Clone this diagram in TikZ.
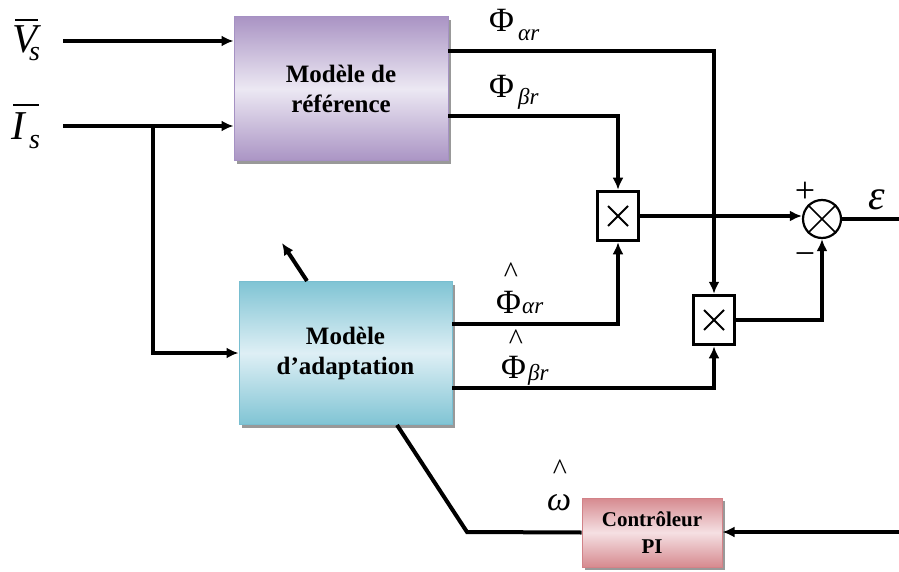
\documentclass[tikz,border=0pt]{standalone}
\usepackage{fontspec}
\setmainfont{Liberation Serif}
\usetikzlibrary{arrows.meta,shadows}
\definecolor{refdark}{RGB}{170,148,196}
\definecolor{reflight}{RGB}{236,232,243}
\definecolor{refedge}{RGB}{165,145,195}
\definecolor{addark}{RGB}{128,196,212}
\definecolor{adlight}{RGB}{222,239,245}
\definecolor{adedge}{RGB}{120,190,208}
\definecolor{pidark}{RGB}{214,138,143}
\definecolor{pilight}{RGB}{245,224,227}
\definecolor{piedge}{RGB}{210,130,136}
\newcommand\BoxFont{\fontsize{25}{30}\selectfont\bfseries}
\newcommand\PhiFont{\fontsize{34}{34}\selectfont}
\newcommand\SubFont{\fontsize{23}{23}\selectfont\itshape}
\newcommand\BigIt{\fontsize{41}{41}\selectfont\itshape}
\newcommand\SmallIt{\fontsize{28}{28}\selectfont\itshape}
\newcommand\HatFont{\fontsize{30}{30}\selectfont}
\begin{document}
\begin{tikzpicture}[x=1pt,y=-1pt,
  block/.style={draw, line width=1pt, align=center, font=\BoxFont, inner sep=0pt,
    shading=axis, shading angle=-45,
    drop shadow={shadow xshift=3pt, shadow yshift=-3pt, fill=black!40, opacity=1}},
  refbox/.style={block, draw=refedge, top color=refdark, bottom color=refdark, middle color=reflight,
    minimum width=214pt, minimum height=144pt},
  adbox/.style={block, draw=adedge, top color=addark, bottom color=addark, middle color=adlight,
    minimum width=213pt, minimum height=143pt},
  pibox/.style={block, draw=piedge, top color=pidark, bottom color=pidark, middle color=pilight,
    minimum width=140pt, minimum height=69pt, font=\fontsize{21}{27}\selectfont\bfseries},
  mult/.style={draw, line width=3.5pt, fill=white, minimum width=41pt, minimum height=49pt, inner sep=0pt},
  sumc/.style={draw, circle, line width=2.2pt, minimum size=38pt, inner sep=0pt},
  ln/.style={line width=4pt},
  arr/.style={line width=4pt, -{Latex[length=12pt,width=11pt]}},
  lab/.style={inner sep=0pt, anchor=base west},
  hat/.style={font=\HatFont, inner sep=0pt, text height=20pt, text depth=-10pt}
]
\useasboundingbox (0,0) rectangle (899,572);
\fill[white] (0,0) rectangle (899,572);

% blocks
\node[refbox] (ref) at (341,89) {Modèle de\\référence};
\node[adbox] (adapt) at (345.5,353) {Modèle\\d’adaptation};
\node[pibox] (pi) at (652,532.5) {Contrôleur\\PI};
\node[mult] (m1) at (618,216) {};
\node[mult] (m2) at (714,320) {};
\node[sumc] (sum) at (822,219) {};

% symbols in multipliers and summer
\draw[line width=2pt] ([shift={(-10,-10)}]m1.center) -- ([shift={(10,10)}]m1.center);
\draw[line width=2pt] ([shift={(-10,10)}]m1.center) -- ([shift={(10,-10)}]m1.center);
\draw[line width=2pt] ([shift={(-10,-10)}]m2.center) -- ([shift={(10,10)}]m2.center);
\draw[line width=2pt] ([shift={(-10,10)}]m2.center) -- ([shift={(10,-10)}]m2.center);
\draw[line width=1.6pt] (sum.north west) -- (sum.south east);
\draw[line width=1.6pt] (sum.north east) -- (sum.south west);

% coordinates
\coordinate (vsin) at (63,41);
\coordinate (isin) at (63,126);
\coordinate (br) at (153,126);
\coordinate (tip) at (282,243);
\coordinate (bend) at (467,532);
\coordinate (epsout) at (899,219);
\coordinate (piin) at (899,532);

% input connectors
\draw[arr] (vsin) -- (vsin -| ref.west);
\draw[arr] (isin) -- (isin -| ref.west);
\draw[arr] (br) |- (adapt.west);

% reference model outputs
\draw[arr] (448,51) -| (m2.north);
\draw[arr] (448,116) -| (m1.north);

% adaptation outputs
\draw[arr] (452,324) -| (m1.south);
\draw[arr] (452,388) -| (m2.south);

% multipliers to summer
\draw[arr] (m1.east) -- (m1.east -| sum.west);
\draw[arr] (m2.east) -| (sum.south);
\draw[ln] (sum.east) -- (epsout);

% PI loop
\draw[arr] (piin) -- (piin -| pi.east);
\draw[ln] (pi.west) -- (bend) -- (397,0 |- adapt.south);
\draw[arr] (307,0 |- adapt.north) -- (tip);

% input labels
\node[lab, font=\BigIt] (vlab) at (12,53) {V};
\node[lab, font=\SmallIt] (vsub) at (29,61) {s};
\draw[line width=1.3pt] (15,20) -- (38,20);
\node[lab, font=\BigIt] (ilab) at (11,140) {I};
\node[lab, font=\SmallIt] (isub) at (29,149) {s};
\draw[line width=1.3pt] (13,105) -- (39,105);

% flux labels
\node[lab, font=\PhiFont] (pa) at (489,32) {Φ};
\node[lab, font=\SubFont] (pas) at (518,41) {αr};
\node[lab, font=\PhiFont] (pb) at (489,98) {Φ};
\node[lab, font=\SubFont] (pbs) at (518,105) {βr};

\node[hat] (h1) at (511,272) {\textasciicircum};
\node[lab, font=\PhiFont] (ha) at (496,313) {Φ};
\node[lab, font=\SubFont] (has) at (522,313) {αr};
\node[hat] (h2) at (516,339) {\textasciicircum};
\node[lab, font=\PhiFont] (hb) at (501,378) {Φ};
\node[lab, font=\SubFont] (hbs) at (528,380) {βr};

\node[hat] (h3) at (560,469) {\textasciicircum};
\node[lab, font=\fontsize{34}{34}\selectfont\itshape] (om) at (547,510) {ω};

% summer signs and error
\node[font=\fontsize{36}{36}\selectfont, inner sep=0pt] (plus) at (805,192) {+};
\node[font=\fontsize{36}{36}\selectfont, inner sep=0pt] (minus) at (805,259) {−};
\node[lab, font=\fontsize{42}{42}\selectfont\itshape] (eps) at (868,209) {ε};
\end{tikzpicture}
\end{document}
